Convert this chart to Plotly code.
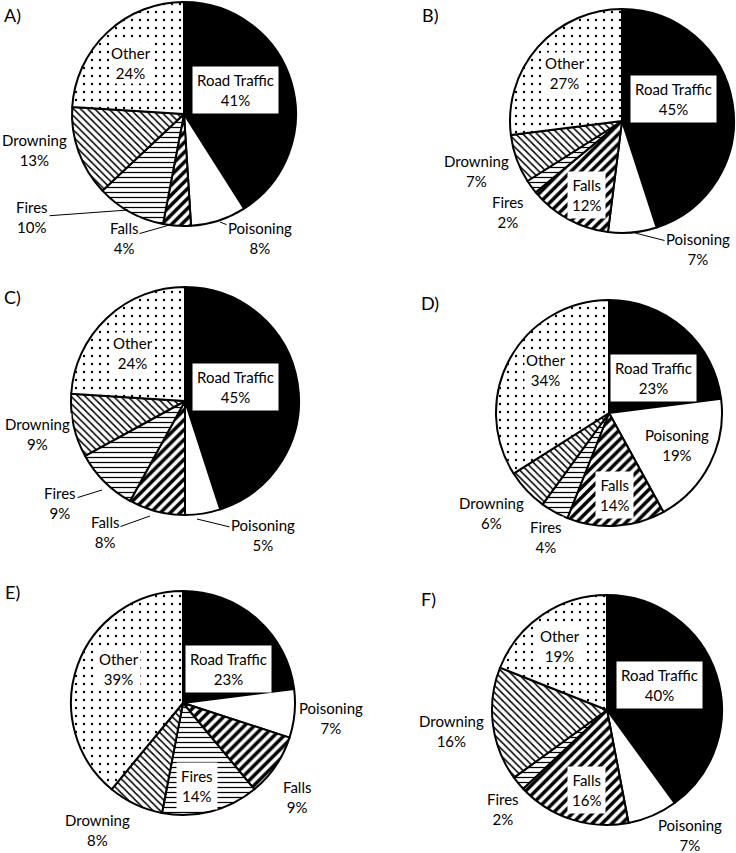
import plotly.graph_objects as go

# ------------------------------------------------------------------
# Data (percent of injury deaths by cause, six panels)
# ------------------------------------------------------------------
categories = ["Road Traffic", "Poisoning", "Falls", "Fires", "Drowning", "Other"]
panel_names = ["A)", "B)", "C)", "D)", "E)", "F)"]

share_a = [41, 8, 4, 10, 13, 24]
share_b = [45, 7, 12, 2, 7, 27]
share_c = [45, 5, 8, 9, 9, 24]
share_d = [23, 19, 14, 4, 6, 34]
share_e = [23, 7, 9, 14, 8, 39]
share_f = [40, 7, 16, 2, 16, 19]

shares = [share_a, share_b, share_c, share_d, share_e, share_f]

# ------------------------------------------------------------------
# Layout (pixels): pie centre/radius, label spots, leader targets
# ------------------------------------------------------------------
W, H = 736, 853
FONT = "Lato"

pie_geom = [  # cx, cy, r
    (184, 114, 112),
    (622, 121, 112),
    (185, 401, 114),
    (609, 413, 113),
    (183, 703, 112),
    (607, 710, 115),
]

panel_pos = [(12, 15), (430, 15), (12, 297), (430, 303), (12, 592), (429, 599)]

# per label: (text x, text y, boxed, leader target or None)
label_spots = [
    {"Road Traffic": (235, 90, True, None), "Other": (131, 63, False, None),
     "Drowning": (34, 150, False, None), "Fires": (32, 217, False, (128, 210)),
     "Falls": (124, 238, False, (173, 224)), "Poisoning": (260, 238, False, (220, 222))},
    {"Road Traffic": (673, 99, True, None), "Other": (565, 73, False, None),
     "Drowning": (476, 171, False, None), "Fires": (508, 212, False, None),
     "Falls": (586, 195, True, None), "Poisoning": (698, 249, False, (635, 233))},
    {"Road Traffic": (235, 387, True, None), "Other": (133, 353, False, None),
     "Drowning": (37, 434, False, None), "Fires": (60, 503, False, (102, 490)),
     "Falls": (105, 532, False, (150, 516)), "Poisoning": (263, 535, False, (197, 519))},
    {"Road Traffic": (653, 378, True, None), "Other": (546, 370, False, None),
     "Drowning": (491, 513, False, None), "Fires": (546, 537, False, None),
     "Falls": (614, 495, True, None), "Poisoning": (677, 445, False, None)},
    {"Road Traffic": (228, 669, True, None), "Other": (119, 669, False, None),
     "Drowning": (97, 830, False, None), "Fires": (197, 786, True, None),
     "Falls": (297, 797, False, None), "Poisoning": (331, 718, False, None)},
    {"Road Traffic": (659, 685, True, None), "Other": (560, 646, False, None),
     "Drowning": (452, 731, False, None), "Fires": (503, 809, False, None),
     "Falls": (586, 790, True, None), "Poisoning": (690, 835, False, None)},
]

slice_colors = ["black", "white", "white", "white", "white", "white"]
pattern_shape = ["", "", "/", "-", "\\", "."]
pattern_size = [8, 8, 7, 5, 5, 8]
pattern_solid = [0.3, 0.3, 0.5, 0.25, 0.3, 0.07]


def px_x(x):
    return x / W


def px_y(y):
    return 1 - y / H


fig = go.Figure()

for vals, (cx, cy, r) in zip(shares, pie_geom):
    fig.add_trace(go.Pie(
        labels=categories, values=vals,
        sort=False, direction="clockwise", rotation=0,
        textinfo="none", hoverinfo="skip", showlegend=False,
        domain=dict(x=[px_x(cx - r), px_x(cx + r)], y=[px_y(cy + r), px_y(cy - r)]),
        marker=dict(
            colors=slice_colors,
            line=dict(color="black", width=2),
            pattern=dict(shape=pattern_shape, fgcolor="black", bgcolor="white",
                         fillmode="overlay", fgopacity=1,
                         size=pattern_size, solidity=pattern_solid),
        ),
    ))

annotations = []
for name, (x, y) in zip(panel_names, panel_pos):
    annotations.append(dict(
        text=name, x=px_x(x), y=px_y(y), xref="paper", yref="paper",
        xanchor="center", yanchor="middle",
        showarrow=False, font=dict(family=FONT, size=18, color="black"),
    ))

for vals, spots in zip(shares, label_spots):
    for cat, v in zip(categories, vals):
        tx, ty, boxed, target = spots[cat]
        # poisoning sits on a white slice or outside: no box, keep the rim visible
        bg = "rgba(0,0,0,0)" if cat == "Poisoning" else "white"
        ann = dict(
            text=f"{cat}<br>{v}%", xref="paper", yref="paper",
            xanchor="center", yanchor="middle",
            font=dict(family=FONT, size=15, color="black"),
            bgcolor=bg, borderpad=4 if boxed else 1,
        )
        if target is None:
            ann.update(x=px_x(tx), y=px_y(ty), showarrow=False)
        else:
            hx, hy = target
            ann.update(x=px_x(hx), y=px_y(hy), showarrow=True, arrowhead=0,
                       arrowwidth=1, arrowcolor="black", standoff=0,
                       ax=tx - hx, ay=ty - hy, axref="pixel", ayref="pixel")
        annotations.append(ann)

fig.update_layout(
    width=W, height=H,
    margin=dict(l=0, r=0, t=0, b=0),
    paper_bgcolor="white", plot_bgcolor="white",
    annotations=annotations,
)

# drop the default 8px body margin so the figure sits at the page corner
fig.write_html("out.html", config={"displayModeBar": False},
               post_script="document.body.style.margin='0';")
